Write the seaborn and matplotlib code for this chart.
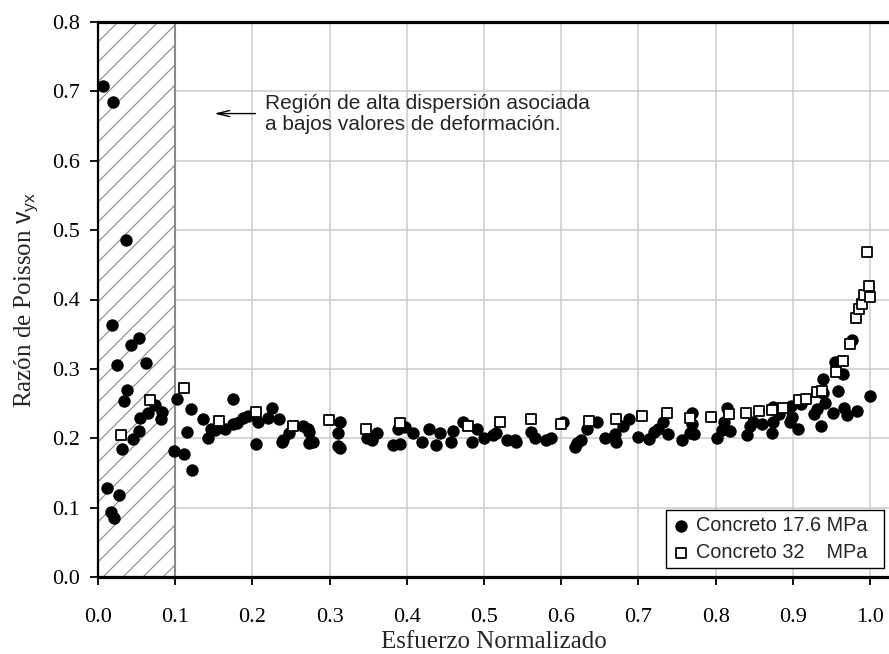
import numpy as np
import pandas as pd
import matplotlib
matplotlib.use("Agg")
import matplotlib.pyplot as plt
import matplotlib.hatch as mhatch
import seaborn as sns

# ---- data ----
c176_x = [0.0069, 0.0117, 0.0168, 0.018, 0.0198, 0.0207, 0.024, 0.0272, 0.0315, 0.034,
          0.036, 0.038, 0.043, 0.045, 0.053, 0.0535, 0.0544, 0.0618, 0.0652, 0.0738,
          0.081, 0.0825, 0.0984, 0.1018, 0.112, 0.115, 0.121, 0.122, 0.1356, 0.142,
          0.1464, 0.1516, 0.1645, 0.1753, 0.1753, 0.1796, 0.188, 0.1947, 0.2047, 0.2068,
          0.2198, 0.2249, 0.2345, 0.238, 0.239, 0.2474, 0.266, 0.2724, 0.2737, 0.2737,
          0.279, 0.3113, 0.3113, 0.3135, 0.3135, 0.348, 0.3545, 0.361, 0.3825, 0.389,
          0.391, 0.3977, 0.4084, 0.420, 0.4292, 0.4378, 0.443, 0.4568, 0.4603, 0.4724,
          0.484, 0.4905, 0.500, 0.512, 0.5155, 0.5294, 0.5402, 0.541, 0.5609, 0.566,
          0.580, 0.5864, 0.6027, 0.618, 0.620, 0.6253, 0.6339, 0.646, 0.6567, 0.6697,
          0.6706, 0.6805, 0.6878, 0.6999, 0.7142, 0.7202, 0.7258, 0.7323, 0.7387, 0.756,
          0.7668, 0.769, 0.769, 0.7724, 0.8022, 0.8079, 0.8113, 0.8143, 0.8187, 0.841,
          0.8446, 0.848, 0.8597, 0.8726, 0.8748, 0.8748, 0.8825, 0.8964, 0.8977, 0.8994,
          0.9071, 0.9102, 0.9275, 0.931, 0.9365, 0.9387, 0.9395, 0.9417, 0.9525, 0.9542,
          0.959, 0.9646, 0.9663, 0.9698, 0.9771, 0.9827, 1.000]
c176_y = [0.708, 0.128, 0.094, 0.363, 0.685, 0.085, 0.306, 0.118, 0.184, 0.254,
          0.486, 0.270, 0.334, 0.199, 0.211, 0.345, 0.229, 0.308, 0.236, 0.248,
          0.228, 0.238, 0.181, 0.257, 0.177, 0.209, 0.242, 0.154, 0.228, 0.200,
          0.214, 0.212, 0.214, 0.257, 0.221, 0.222, 0.229, 0.232, 0.191, 0.224,
          0.229, 0.243, 0.228, 0.194, 0.198, 0.207, 0.217, 0.214, 0.209, 0.193,
          0.194, 0.207, 0.189, 0.224, 0.186, 0.200, 0.198, 0.207, 0.190, 0.214,
          0.192, 0.216, 0.207, 0.194, 0.214, 0.190, 0.207, 0.194, 0.211, 0.224,
          0.194, 0.214, 0.200, 0.205, 0.208, 0.197, 0.198, 0.194, 0.209, 0.200,
          0.198, 0.201, 0.223, 0.188, 0.193, 0.197, 0.213, 0.224, 0.201, 0.206,
          0.194, 0.218, 0.228, 0.202, 0.199, 0.209, 0.214, 0.224, 0.206, 0.197,
          0.208, 0.236, 0.221, 0.206, 0.200, 0.212, 0.223, 0.243, 0.211, 0.205,
          0.217, 0.224, 0.220, 0.208, 0.224, 0.245, 0.235, 0.224, 0.247, 0.231,
          0.213, 0.250, 0.235, 0.242, 0.217, 0.285, 0.265, 0.251, 0.237, 0.310,
          0.268, 0.292, 0.244, 0.234, 0.342, 0.239, 0.261]

c32_x = [0.0298, 0.0674, 0.111, 0.1567, 0.2047, 0.2522, 0.2997, 0.3467, 0.391, 0.4797,
         0.5207, 0.5609, 0.5993, 0.636, 0.671, 0.705, 0.7366, 0.7668, 0.7936, 0.8178,
         0.839, 0.8567, 0.8735, 0.8869, 0.908, 0.9171, 0.9318, 0.9383, 0.9559, 0.9646,
         0.9741, 0.9819, 0.9862, 0.9892, 0.9922, 0.9957, 0.9991, 1.000]
c32_y = [0.204, 0.255, 0.272, 0.225, 0.238, 0.217, 0.227, 0.213, 0.222, 0.218,
         0.224, 0.228, 0.220, 0.225, 0.228, 0.232, 0.236, 0.229, 0.231, 0.235,
         0.237, 0.239, 0.241, 0.244, 0.255, 0.257, 0.267, 0.268, 0.295, 0.311,
         0.336, 0.374, 0.387, 0.394, 0.407, 0.468, 0.419, 0.404]

x_ticks = [0.0, 0.1, 0.2, 0.3, 0.4, 0.5, 0.6, 0.7, 0.8, 0.9, 1.0]
y_ticks = [0.0, 0.1, 0.2, 0.3, 0.4, 0.5, 0.6, 0.7, 0.8]
labels = ["Concreto 17.6 MPa  ", "Concreto 32    MPa  "]

df176 = pd.DataFrame({"x": c176_x, "y": c176_y})
df32 = pd.DataFrame({"x": c32_x, "y": c32_y})


# slightly denser single-diagonal hatch (between "/" and "//"); even count keeps tiling seamless
class _DenserNE(mhatch.NorthEastHatch):
    def __init__(self, hatch, density):
        super().__init__(hatch, density)
        self.num_lines = int(hatch.count('/') * 10)
        self.num_vertices = (self.num_lines + 1) * 2 if self.num_lines else 0


try:
    mhatch._hatch_types = [(_DenserNE if t is mhatch.NorthEastHatch else t)
                           for t in mhatch._hatch_types]
except Exception:
    pass

sns.set_style("white")
plt.rcParams["font.family"] = ["Liberation Serif", "DejaVu Serif"]
plt.rcParams["mathtext.fontset"] = "custom"
plt.rcParams["mathtext.sf"] = "Liberation Sans"
plt.rcParams["mathtext.rm"] = "Liberation Sans"
plt.rcParams["hatch.linewidth"] = 0.8

fig = plt.figure(figsize=(8.89, 6.54), dpi=100)
ax = fig.add_axes([98 / 889, 77 / 654, 791 / 889, 555 / 654])

ax.set_xlim(0, 1.0246)
ax.set_ylim(0, 0.8)

# grid
ax.set_axisbelow(True)
ax.grid(True, color="#cccccc", linewidth=1.1)

# hatched region
ax.axvspan(0, 0.1, facecolor="white", edgecolor="#8a8a8a", hatch="/",
           linewidth=1.5, zorder=1.5)

sns.scatterplot(data=df176, x="x", y="y", ax=ax, marker="o", color="black",
                edgecolor="black", s=80, linewidth=0, label=labels[0], zorder=3)
sns.scatterplot(data=df32, x="x", y="y", ax=ax, marker="s", color="white",
                edgecolor="black", s=44, linewidth=1.3, label=labels[1], zorder=4)

ax.set_xticks(x_ticks)
ax.set_yticks(y_ticks)
ax.set_xticklabels([f"{v:.1f}" for v in x_ticks])
ax.set_yticklabels([f"{v:.1f}" for v in y_ticks])
ax.tick_params(axis="x", direction="out", length=6, width=1.3, pad=16,
               labelsize=16, colors="black", bottom=True)
ax.tick_params(axis="y", direction="out", length=6, width=1.3, pad=7,
               labelsize=16, colors="black", left=True)

for s in ["top", "bottom"]:
    ax.spines[s].set_visible(True)
    ax.spines[s].set_color("black")
    ax.spines[s].set_linewidth(2.3)
ax.spines["left"].set_color("black")
ax.spines["left"].set_linewidth(1.6)
ax.spines["right"].set_visible(False)

ax.set_xlabel("Esfuerzo Normalizado", fontsize=18, labelpad=3)
ax.set_ylabel(r"Razón de Poisson $\mathsf{v_{yx}}$", fontsize=18, labelpad=9)

# annotation
ax.annotate("", xy=(0.147, 0.668), xytext=(0.2076, 0.668),
            arrowprops=dict(arrowstyle="->,head_length=0.9,head_width=0.22",
                            color="black", lw=1.0))
ax.text(0.2163, 0.6674, "Región de alta dispersión asociada\na bajos valores de deformación.",
        fontsize=15, family=["Liberation Sans", "DejaVu Sans"], va="center",
        ha="left", linespacing=1.1)

leg = ax.legend(loc="lower right", bbox_to_anchor=(0.9937, 0.016),
                borderaxespad=0, frameon=True, fancybox=False,
                prop={"family": ["Liberation Sans", "DejaVu Sans"], "size": 14.3},
                handletextpad=0.3, borderpad=0.3, labelspacing=0.42,
                handlelength=0.9)
leg.get_frame().set_edgecolor("black")
leg.get_frame().set_linewidth(1.0)
leg.get_frame().set_alpha(1)

fig.savefig("out.png", dpi=100)
